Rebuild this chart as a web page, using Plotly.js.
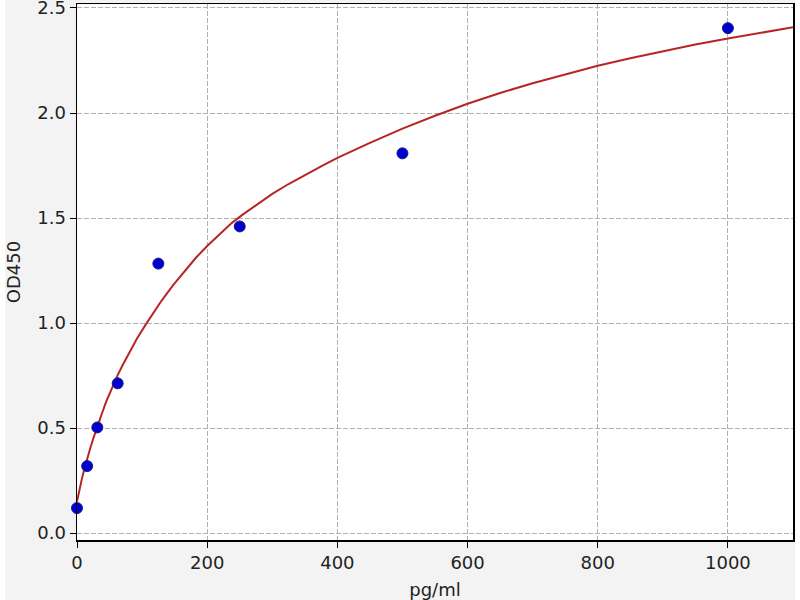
<!DOCTYPE html>
<html>
<head>
<meta charset="utf-8">
<script src="https://cdn.plot.ly/plotly-3.0.1.min.js"></script>
<style>
  html, body { margin: 0; padding: 0; background: #ffffff; }
  #chart { width: 800px; height: 600px; }
</style>
</head>
<body>
<div id="chart"></div>
<script>
// standard concentrations (pg/ml) and measured OD450
var concentrations = [0, 15.6, 31.25, 62.5, 125, 250, 500, 1000];
var odValues = [0.119, 0.319, 0.503, 0.713, 1.283, 1.460, 1.808, 2.404];

// fitted curve
var curveX = [0, 2.5, 5, 7.5, 10, 15, 20, 25, 31.25, 38, 45, 56, 62.5, 70, 80, 92, 105, 118, 130, 148, 166, 183, 200, 219, 238, 254, 270, 285, 300, 325, 350, 375, 400, 450, 500, 550, 600, 650, 700, 750, 800, 850, 900, 950, 1000, 1050, 1100];
var curveY = [0.15, 0.19, 0.225, 0.258, 0.29, 0.348, 0.40, 0.45, 0.51, 0.567, 0.627, 0.71, 0.752, 0.799, 0.857, 0.925, 0.99, 1.052, 1.107, 1.182, 1.251, 1.312, 1.367, 1.424, 1.477, 1.515, 1.55, 1.583, 1.615, 1.662, 1.705, 1.746, 1.786, 1.858, 1.926, 1.987, 2.044, 2.095, 2.142, 2.185, 2.225, 2.261, 2.295, 2.326, 2.355, 2.382, 2.408];

var xTicks = [0, 200, 400, 600, 800, 1000];
var yTicks = [0.0, 0.5, 1.0, 1.5, 2.0, 2.5];

var fontFamily = 'DejaVu Sans, sans-serif';

var curveTrace = {
    x: curveX,
    y: curveY,
    type: 'scatter',
    mode: 'lines',
    line: { color: '#b82525', width: 2, shape: 'linear' },
    hoverinfo: 'skip',
    showlegend: false
};

var pointTrace = {
    x: concentrations,
    y: odValues,
    type: 'scatter',
    mode: 'markers',
    marker: { color: '#0000cc', size: 11, line: { color: '#1a1a8c', width: 1 } },
    cliponaxis: false,
    showlegend: false
};

function axisStyle(ticks, range, titleText) {
    return {
        range: range,
        tickmode: 'array',
        tickvals: ticks,
        ticks: 'outside',
        ticklen: 6,
        tickwidth: 1,
        tickcolor: '#000000',
        ticklabeloverflow: 'allow',
        showline: true,
        linecolor: '#000000',
        linewidth: 1.5,
        mirror: true,
        showgrid: true,
        gridcolor: '#b0b0b0',
        gridwidth: 1,
        griddash: '5px,2px',
        zeroline: false,
        tickfont: { family: fontFamily, size: 18, color: '#222222' },
        title: { text: titleText, font: { family: fontFamily, size: 18, color: '#222222' } }
    };
}

var layout = {
    width: 800,
    height: 600,
    paper_bgcolor: '#f3f3f3',
    plot_bgcolor: '#ffffff',
    margin: { l: 77, r: 7, t: 4, b: 60 },
    xaxis: axisStyle(xTicks, [0, 1100], 'pg/ml'),
    yaxis: axisStyle(yTicks, [-0.033, 2.519], 'OD450'),
    shapes: [
        // white strips at the left and right edge of the image
        { type: 'rect', xref: 'paper', yref: 'paper', x0: -0.11, x1: -0.1005, y0: -0.2, y1: 1.1,
          fillcolor: '#ffffff', line: { width: 0 }, layer: 'below' },
        { type: 'rect', xref: 'paper', yref: 'paper', x0: 1.003, x1: 1.02, y0: -0.2, y1: 1.1,
          fillcolor: '#ffffff', line: { width: 0 }, layer: 'below' }
    ]
};

layout.xaxis.tickformat = 'd';
layout.yaxis.tickformat = '.1f';
layout.yaxis.automargin = 'left';
layout.yaxis.title.standoff = 12;

Plotly.newPlot('chart', [curveTrace, pointTrace], layout, { displayModeBar: false, staticPlot: true });
</script>
</body>
</html>
